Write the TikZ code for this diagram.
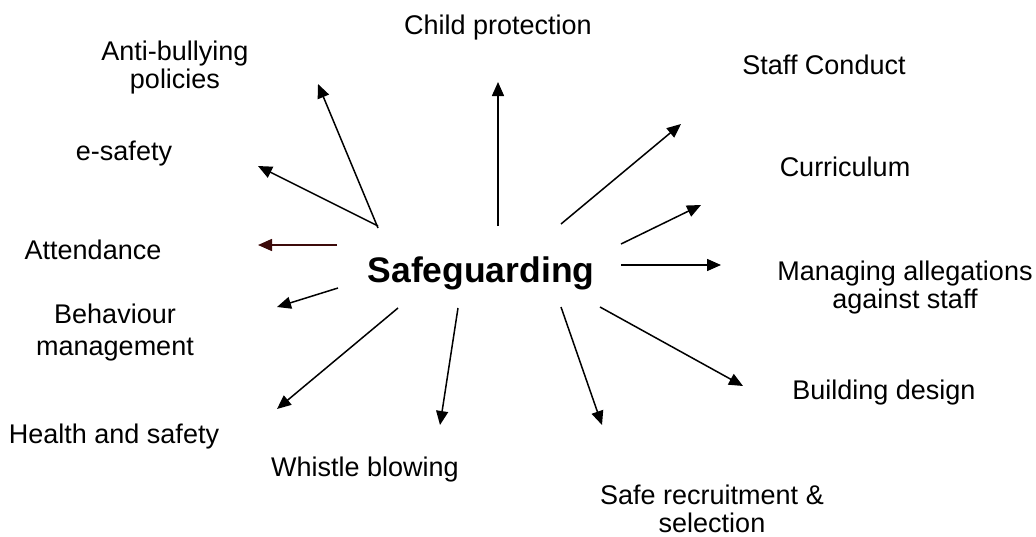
\documentclass[tikz,border=0pt]{standalone}
\usepackage{fontspec}
\setmainfont{Liberation Sans}
\usetikzlibrary{arrows.meta}
\begin{document}
\begin{tikzpicture}[x=1pt,y=-1pt,
  lbl/.style={font=\fontsize{27}{28}\selectfont, align=center, inner sep=0pt, anchor=base},
  arr/.style={line width=1.5pt, -{Triangle[length=14pt,width=12pt]}},
  arrd/.style={arr, draw={rgb,255:red,60;green,10;blue,10}}]
\useasboundingbox (0,0) rectangle (1036,536);
\node[font=\fontsize{35.5}{40}\selectfont\bfseries, inner sep=0pt, anchor=base] (sg) at (481,282) {Safeguarding};
\node[lbl] (ab) at (175,88) {Anti-bullying\\policies};
\node[lbl] (cp) at (498,34) {Child protection};
\node[lbl] (sc) at (824,74) {Staff Conduct};
\node[lbl] (es) at (124,160) {e-safety};
\node[lbl] (cu) at (845,176) {Curriculum};
\node[lbl] (at) at (93,259) {Attendance};
\node[lbl] (ma) at (905,308) {Managing allegations\\against staff};
\node[lbl] (bm) at (115,355) {Behaviour\\[4pt]management};
\node[lbl] (bd) at (884,399) {Building design};
\node[lbl] (hs) at (114,443) {Health and safety};
\node[lbl] (wb) at (365,476) {Whistle blowing};
\node[lbl] (sr) at (712,532) {Safe recruitment \&\\selection};
% arrow ends
\coordinate (s1) at (378,228); \coordinate (t1) at (318,84);
\coordinate (s2) at (498,226); \coordinate (t2) at (498,82);
\coordinate (s3) at (561,224); \coordinate (t3) at (681,124);
\coordinate (s4) at (621,244); \coordinate (t4) at (701,205);
\coordinate (s5) at (621,265); \coordinate (t5) at (721,265);
\coordinate (s6) at (600,307); \coordinate (t6) at (743,386);
\coordinate (s7) at (561,307); \coordinate (t7) at (602,425);
\coordinate (s8) at (458,308); \coordinate (t8) at (440,425);
\coordinate (s9) at (398,308); \coordinate (t9) at (277,409);
\coordinate (s10) at (338,288); \coordinate (t10) at (277,307);
\coordinate (s11) at (337,245); \coordinate (t11) at (258,245);
\coordinate (s12) at (378,226); \coordinate (t12) at (258,166);
\foreach \i in {1,2,3,4,5,6,7,8,9,10,12} {\draw[arr] (s\i) -- (t\i);}
\draw[arrd] (s11) -- (t11);
\end{tikzpicture}
\end{document}
